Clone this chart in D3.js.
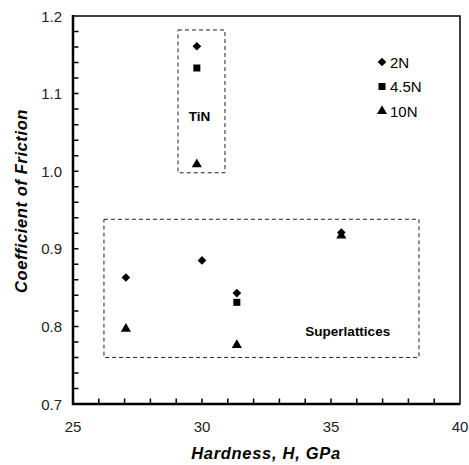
<!DOCTYPE html>
<html><head><meta charset="utf-8">
<script src="https://cdn.jsdelivr.net/npm/d3@7"></script>
<style>body{margin:0;background:#fff}svg{display:block}text{font-family:"Liberation Sans",Arial,sans-serif}</style>
</head><body><svg id="c" width="469" height="465"></svg>
<script>
const loads = ["2N", "4.5N", "10N"];
const symbols = ["diamond", "square", "triangle"];
const hardness = [29.8, 27.05, 30.0, 31.35, 35.4];
const mu2N   = [1.161, 0.863, 0.885, 0.843, 0.921];
const mu45N  = [1.133, null, null, 0.831, null];
const mu10N  = [1.009, 0.797, null, 0.776, 0.917];
const xTicks = [25, 30, 35, 40];
const yTicks = [0.7, 0.8, 0.9, 1.0, 1.1, 1.2];
const boxes = [
  {label: "TiN", x0: 29.07, x1: 30.89, y0: 0.998, y1: 1.182, lx: 29.9, ly: 1.065},
  {label: "Superlattices", x0: 26.2, x1: 38.41, y0: 0.760, y1: 0.938, lx: 35.65, ly: 0.787}
];

const svg = d3.select("#c");
const L = 73, R = 460, T = 16, B = 404;
const x = d3.scaleLinear().domain([25, 40]).range([L, R]);
const y = d3.scaleLinear().domain([0.7, 1.2]).range([B, T]);

// frame
svg.append("rect").attr("x", L).attr("y", T).attr("width", R - L).attr("height", B - T)
  .attr("fill", "none").attr("stroke", "#000").attr("stroke-width", 1.5);

// minor ticks inward
const xMinor = d3.range(26, 40, 1);
const yMinor = d3.range(1, 25).map(i => 0.7 + i * 0.02);
const tickPath = d3.path();
xMinor.forEach(d => { tickPath.moveTo(x(d), B); tickPath.lineTo(x(d), B - 5.5); });
yMinor.forEach(d => { tickPath.moveTo(L, y(d)); tickPath.lineTo(L + 5.5, y(d)); });
svg.append("path").attr("d", tickPath.toString()).attr("fill", "none")
  .attr("stroke", "#000").attr("stroke-width", 1.5);

// bold axis lines
svg.append("line").attr("x1", L).attr("x2", L).attr("y1", T - 1).attr("y2", B + 1).attr("stroke", "#000").attr("stroke-width", 2.5);
svg.append("line").attr("x1", L - 1).attr("x2", R).attr("y1", B).attr("y2", B).attr("stroke", "#000").attr("stroke-width", 2.5);

// tick labels
svg.append("g").selectAll("text").data(xTicks).join("text")
  .attr("x", d => x(d)).attr("y", B + 28).attr("text-anchor", "middle")
  .attr("font-size", 15).attr("fill", "#222").text(d => d);
svg.append("g").selectAll("text").data(yTicks).join("text")
  .attr("x", L - 11).attr("y", d => y(d) + 5.5).attr("text-anchor", "end")
  .attr("font-size", 15).attr("fill", "#222").text(d => d.toFixed(1));

// axis titles
svg.append("text").attr("x", 266).attr("y", 459).attr("text-anchor", "middle")
  .attr("font-size", 16.5).attr("letter-spacing", 0.7).attr("font-weight", "bold").attr("font-style", "italic").text("Hardness, H, GPa");
svg.append("text").attr("transform", `translate(27,201) rotate(-90)`).attr("text-anchor", "middle")
  .attr("font-size", 16.5).attr("letter-spacing", 0.6).attr("font-weight", "bold").attr("font-style", "italic").text("Coefficient of Friction");

// dashed boxes
svg.append("g").selectAll("rect").data(boxes).join("rect")
  .attr("x", d => x(d.x0)).attr("y", d => y(d.y1))
  .attr("width", d => x(d.x1) - x(d.x0)).attr("height", d => y(d.y0) - y(d.y1))
  .attr("fill", "none").attr("stroke", "#222").attr("stroke-width", 1).attr("stroke-dasharray", "4,3");
svg.append("g").selectAll("text").data(boxes).join("text")
  .attr("x", d => x(d.lx)).attr("y", d => y(d.ly)).attr("text-anchor", "middle")
  .attr("font-size", 13.5).attr("font-weight", "bold").text(d => d.label);

// markers
const diamondSym = {draw(ctx, size) { const r = Math.sqrt(size / 2); ctx.moveTo(0, -r); ctx.lineTo(r, 0); ctx.lineTo(0, r); ctx.lineTo(-r, 0); ctx.closePath(); }};
const symType = {diamond: diamondSym, square: d3.symbolSquare, triangle: d3.symbolTriangle};
const symSize = {diamond: 38, square: 49, triangle: 44};
const series = [mu2N, mu45N, mu10N];
series.forEach((vals, i) => {
  const pts = hardness.map((h, j) => ({h, v: vals[j]})).filter(p => p.v != null);
  svg.append("g").selectAll("path").data(pts).join("path")
    .attr("transform", p => `translate(${x(p.h)},${y(p.v)})`)
    .attr("d", d3.symbol().type(symType[symbols[i]]).size(symSize[symbols[i]]))
    .attr("fill", "#000");
});

// legend
const lg = svg.append("g");
loads.forEach((l, i) => {
  const ly = 62 + i * 24.5;
  lg.append("path").attr("transform", `translate(382,${ly})`)
    .attr("d", d3.symbol().type(symType[symbols[i]]).size(symSize[symbols[i]])).attr("fill", "#000");
  lg.append("text").attr("x", 390).attr("y", ly + 5.5).attr("font-size", 15).text(l);
});
</script></body></html>
